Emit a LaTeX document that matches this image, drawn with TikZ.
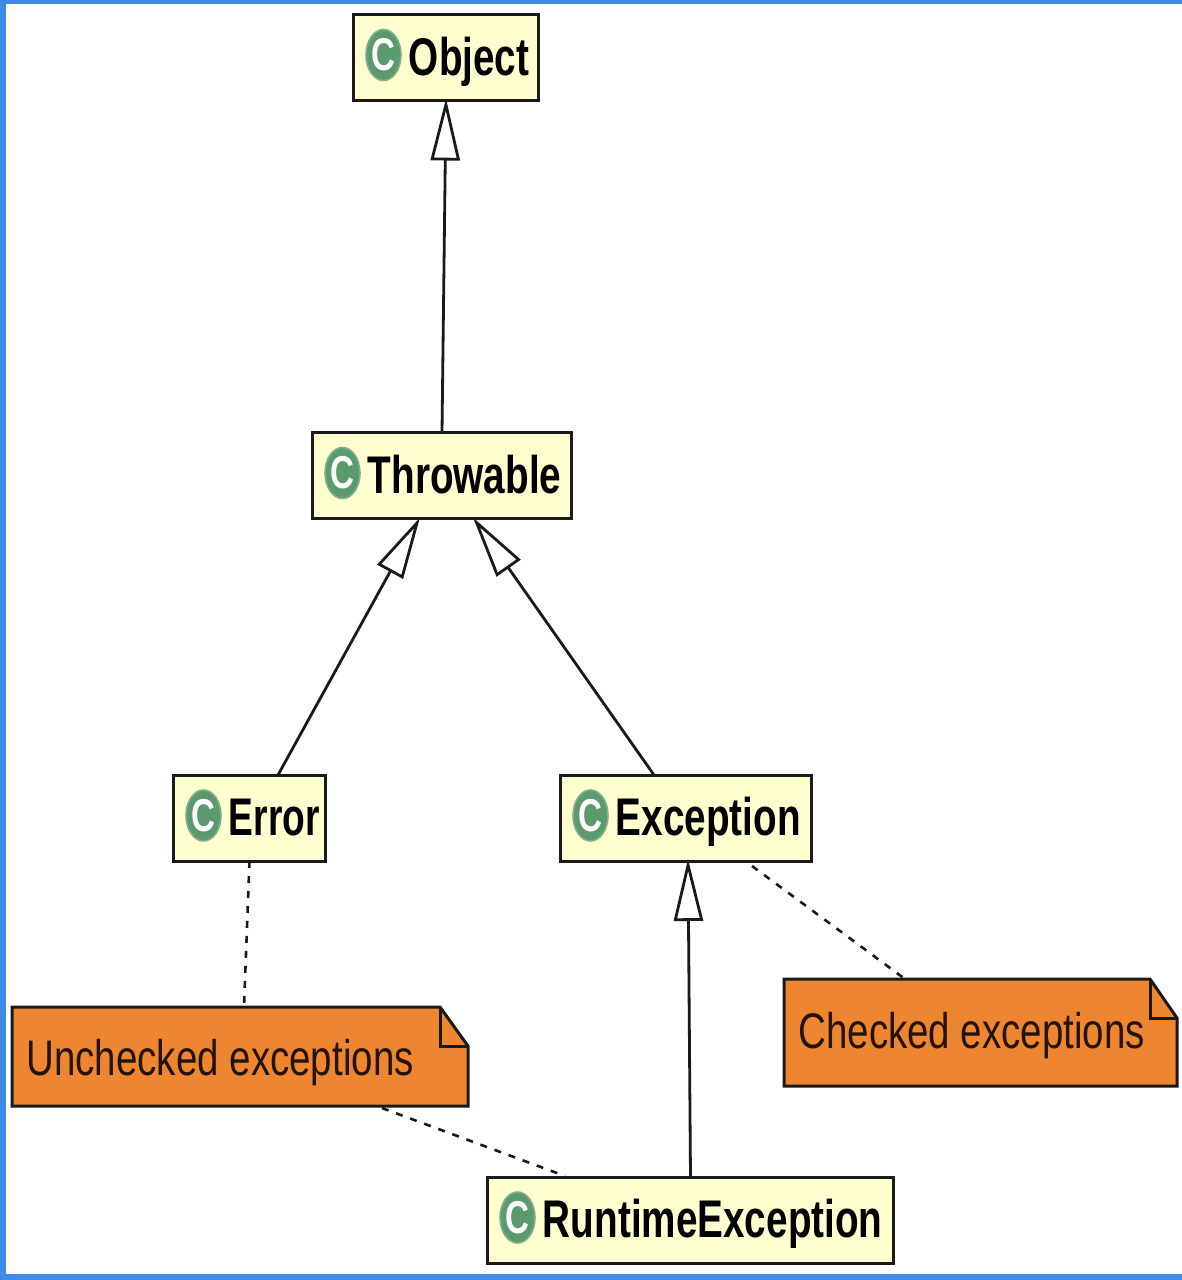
\documentclass[tikz,border=0pt]{standalone}
\usepackage{fontspec}
\usetikzlibrary{arrows.meta,calc,shapes.geometric}
\setmainfont{Liberation Sans}
\newfontfamily\classfont[FakeStretch=0.73]{Liberation Sans Bold}
\newfontfamily\notefont[FakeStretch=0.77]{Liberation Sans}
\newfontfamily\iconfont[FakeStretch=0.72]{Liberation Sans Bold}
\definecolor{classfill}{HTML}{FEFECE}
\definecolor{notefill}{HTML}{EE8530}
\definecolor{frameblue}{HTML}{3F8CE8}
\definecolor{icongreen}{HTML}{5B9A6C}
\definecolor{iconring}{HTML}{82B08E}
\definecolor{inkline}{HTML}{1A1A1A}
\tikzset{
  classbox/.style={draw=inkline,line width=1.5pt,fill=classfill,rectangle,inner sep=0pt,outer sep=0pt,minimum height=43pt},
  classtext/.style={anchor=base west,inner sep=0pt,font=\classfont\fontsize{26.5pt}{26.5pt}\selectfont,text=black},
  classicon/.style={ellipse,fill=icongreen,draw=iconring,line width=0.8pt,minimum width=17.5pt,minimum height=25.5pt,inner sep=0pt,text=white,font=\iconfont\fontsize{23pt}{23pt}\selectfont},
  notebody/.style={draw=inkline,line width=1.5pt,fill=notefill,line join=miter},
  notefold/.style={draw=inkline,line width=1.5pt},
  notetext/.style={anchor=base west,inner sep=0pt,font=\notefont\fontsize{25pt}{25pt}\selectfont,text=black!85!notefill},
  notearea/.style={rectangle,inner sep=0pt,outer sep=0pt},
  extends/.style={draw=inkline,line width=1.4pt,-{Triangle[open,fill=white,length=31pt,width=14.5pt,line width=1.4pt]}},
  attached/.style={draw=inkline,line width=1.3pt,dash pattern=on 3.5pt off 4pt},
}
% name, centre x, centre y, width in pt, label
\newcommand{\umlclass}[5]{%
  \node[classbox,minimum width=#4pt] (#1) at (#2,#3) {};
  \node[classicon] (#1-icon) at ($(#1.west)+(30,-2.5)$) {C};
  \node[classtext] (#1-text) at ($(#1.west)+(55,17.5)$) {#5};
}
\begin{document}
\begin{tikzpicture}[x=0.5pt,y=-0.5pt]
\useasboundingbox (0,0) rectangle (1182,1280);
\fill[white] (0,0) rectangle (1182,1280);
\fill[frameblue] (0,0) rectangle (1182,4);
\fill[frameblue] (0,0) rectangle (6,1280);
\fill[frameblue] (0,1274) rectangle (1182,1280);

\umlclass{object}{446}{57.5}{92.5}{Object}
\umlclass{throwable}{442}{475.5}{129.5}{Throwable}
\umlclass{error}{249.5}{818}{76}{\scalebox{0.96}[1]{Error}}
\umlclass{exception}{686}{818}{125.5}{Exception}
\umlclass{runtime}{690.5}{1220}{203}{RuntimeException}

% unchecked note
\draw[notebody] (12,1007) -- (440,1007) -- (468,1046) -- (468,1106) -- (12,1106) -- cycle;
\draw[notefold] (440,1007) -- (440,1046) -- (468,1046);
\node[notearea,minimum width=228pt,minimum height=49.5pt] (unchecked) at (240,1056.5) {};
\node[notetext] (unchecked-text) at (26,1075) {Unchecked exceptions};
% checked note
\draw[notebody] (784,979) -- (1150,979) -- (1177,1018) -- (1177,1086) -- (784,1086) -- cycle;
\draw[notefold] (1150,979) -- (1150,1018) -- (1177,1018);
\node[notearea,minimum width=196.5pt,minimum height=53.5pt] (checked) at (980.5,1032.5) {};
\node[notetext] (checked-text) at (798,1048) {Checked exceptions};

% generalisations
\draw[extends] (throwable.north) -- ($(object.south)+(0,-2)$);
\draw[extends] ($(error.north)+(28.5,0)$) -- ($(throwable.south)+(-22,-1)$);
\draw[extends] ($(exception.north)+(-32,0)$) -- ($(throwable.south)+(31,-1)$);
\draw[extends] (runtime.north) -- ($(exception.south)+(2,-2)$);

% note links
\draw[attached] (error.south) -- ($(unchecked.north)+(4,0)$);
\draw[attached] ($(exception.south)+(66,5)$) -- ($(checked.north)+(-75.5,0)$);
\draw[attached] ($(unchecked.south)+(142,2)$) -- ($(runtime.north)+(-125.5,-1)$);
\end{tikzpicture}
\end{document}
